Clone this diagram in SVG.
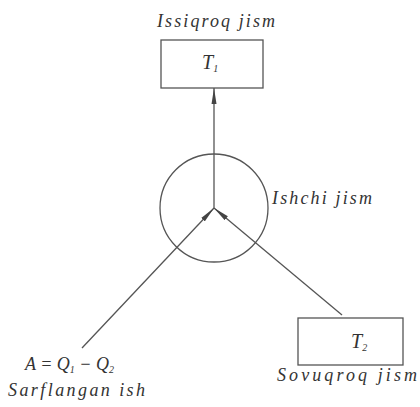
<svg xmlns="http://www.w3.org/2000/svg" width="420" height="407" viewBox="0 0 420 407">
<defs>
<style>
.t{font-family:"Liberation Serif","DejaVu Serif","Times New Roman",serif;font-style:italic;fill:#333;font-size:18px}
.s{font-size:10px}
.box{fill:none;stroke:#555;stroke-width:1.3}
.ln{stroke:#555;stroke-width:1.3;fill:none}
</style>
<marker id="ah" viewBox="0 0 16 6" refX="16" refY="3" markerWidth="16" markerHeight="6" markerUnits="userSpaceOnUse" orient="auto">
<path d="M0,0.5 L16,3 L0,5.5 Z" fill="#444"/>
</marker>
</defs>
<rect width="420" height="407" fill="#fff"/>
<g id="hot">
<text class="t" x="216" y="27" text-anchor="middle" textLength="118" lengthAdjust="spacing">Issiqroq jism</text>
<rect class="box" x="161" y="40" width="102" height="48"/>
<text class="t" x="202" y="69" style="font-size:20px">T<tspan class="s" dy="3">1</tspan></text>
</g>
<g id="work">
<circle class="ln" cx="214" cy="208" r="54"/>
<text class="t" x="272" y="204" textLength="100" lengthAdjust="spacing">Ishchi jism</text>
</g>
<g id="cold">
<rect class="box" x="298" y="318" width="105" height="47"/>
<text class="t" x="351" y="348" style="font-size:20px">T<tspan class="s" dy="3">2</tspan></text>
<text class="t" x="347" y="381" text-anchor="middle" textLength="140" lengthAdjust="spacing">Sovuqroq jism</text>
</g>
<g id="expended">
<text class="t" x="25" y="370">A = Q<tspan class="s" dy="3">1</tspan><tspan dy="-3"> − Q</tspan><tspan class="s" dy="3">2</tspan></text>
<text class="t" x="8" y="396" textLength="137" lengthAdjust="spacing">Sarflangan ish</text>
</g>
<g id="connectors">
<line class="ln" x1="214" y1="208" x2="214" y2="88" marker-end="url(#ah)"/>
<line class="ln" x1="82" y1="348" x2="214" y2="208" marker-end="url(#ah)"/>
<line class="ln" x1="342" y1="315" x2="214" y2="208" marker-end="url(#ah)"/>
</g>
</svg>
